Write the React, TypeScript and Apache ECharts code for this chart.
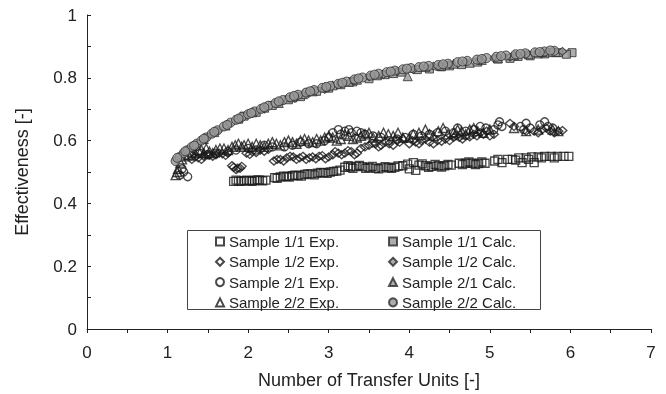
import React, { useEffect, useRef } from "react";
import * as echarts from "echarts";

// [NTU, effectiveness]
const s11Exp: number[][] = [
  [1.82, 0.470], [1.88, 0.471], [1.95, 0.472], [2.02, 0.472], [2.08, 0.473], [2.14, 0.474], [2.22, 0.474],
  [2.33, 0.482], [2.40, 0.484], [2.48, 0.486], [2.55, 0.488], [2.62, 0.489], [2.70, 0.492], [2.78, 0.494],
  [2.86, 0.496], [2.94, 0.498], [3.02, 0.500], [3.10, 0.503], [3.20, 0.515], [3.27, 0.516], [3.34, 0.518],
  [3.42, 0.517], [3.50, 0.514], [3.58, 0.512], [3.66, 0.513], [3.74, 0.514], [3.82, 0.515], [3.92, 0.520],
  [3.98, 0.525], [4.05, 0.530], [4.12, 0.522], [4.20, 0.520], [4.28, 0.518], [4.36, 0.520], [4.44, 0.520],
  [4.52, 0.522], [4.62, 0.528], [4.70, 0.528], [4.78, 0.528], [4.86, 0.527], [4.94, 0.528], [5.06, 0.535],
  [5.15, 0.530], [5.22, 0.540], [5.28, 0.540], [5.36, 0.545], [5.45, 0.545], [5.52, 0.548], [5.60, 0.548],
  [5.68, 0.550], [5.76, 0.550], [5.84, 0.550], [5.92, 0.550], [5.98, 0.550], [5.40, 0.530], [5.55, 0.530],
  [4.00, 0.510], [4.08, 0.505],
  [1.85, 0.474], [1.91, 0.470], [1.98, 0.474], [2.05, 0.470], [2.11, 0.475], [2.18, 0.472], [2.36, 0.480],
  [2.44, 0.487], [2.51, 0.484], [2.58, 0.490], [2.66, 0.487], [2.74, 0.494], [2.82, 0.491], [2.90, 0.499],
  [2.98, 0.496], [3.06, 0.502], [3.14, 0.506], [3.24, 0.520], [3.30, 0.512], [3.38, 0.521], [3.46, 0.512],
  [3.54, 0.518], [3.62, 0.510], [3.70, 0.517], [3.78, 0.512], [3.86, 0.519], [4.16, 0.526], [4.24, 0.515],
  [4.32, 0.524], [4.40, 0.516], [4.48, 0.524], [4.66, 0.524], [4.74, 0.532], [4.82, 0.524], [4.90, 0.532],
  [5.10, 0.540], [5.32, 0.538], [5.48, 0.540], [5.64, 0.545], [5.80, 0.545]
];
const s11Calc: number[][] = [
  [1.95, 0.678], [2.30, 0.712], [2.65, 0.740], [3.00, 0.767], [3.30, 0.787], [3.70, 0.810], [4.10, 0.826],
  [4.40, 0.835], [4.65, 0.842], [5.10, 0.860], [5.35, 0.868], [5.60, 0.876], [5.75, 0.880], [5.85, 0.880],
  [6.02, 0.880],
  [2.10, 0.690], [2.50, 0.730], [2.85, 0.757], [3.15, 0.778], [3.50, 0.797], [3.90, 0.818], [4.25, 0.828],
  [4.50, 0.838], [4.85, 0.850], [5.25, 0.862], [5.50, 0.870], [5.68, 0.876], [5.95, 0.875]
];
const s12Exp: number[][] = [
  [1.30, 0.540], [1.38, 0.545], [1.45, 0.550], [1.52, 0.553], [1.60, 0.555], [1.68, 0.558], [1.75, 0.560],
  [1.82, 0.515], [1.87, 0.512], [1.92, 0.518], [1.98, 0.560], [2.05, 0.565], [2.15, 0.570], [2.25, 0.572],
  [2.32, 0.535], [2.40, 0.540], [2.48, 0.545], [2.56, 0.548], [2.64, 0.545], [2.72, 0.540], [2.80, 0.548],
  [2.88, 0.550], [2.96, 0.542], [3.05, 0.555], [3.12, 0.560], [3.20, 0.560], [3.28, 0.565], [3.35, 0.560],
  [3.40, 0.575], [3.50, 0.585], [3.58, 0.590], [3.65, 0.585], [3.75, 0.590], [3.85, 0.600], [3.92, 0.605],
  [4.00, 0.590], [4.08, 0.595], [4.15, 0.600], [4.25, 0.595], [4.35, 0.600], [4.45, 0.605], [4.55, 0.610],
  [4.62, 0.610], [4.70, 0.615], [4.80, 0.620], [4.88, 0.625], [4.96, 0.630], [5.05, 0.620], [5.25, 0.655],
  [5.30, 0.645], [5.45, 0.630], [5.55, 0.630], [5.65, 0.635], [5.75, 0.630], [5.85, 0.630], [5.90, 0.632],
  [1.34, 0.548], [1.42, 0.540], [1.49, 0.556], [1.56, 0.550], [1.64, 0.560], [1.72, 0.553], [1.80, 0.520],
  [1.85, 0.508], [1.90, 0.512], [2.02, 0.556], [2.10, 0.562], [2.20, 0.566], [2.36, 0.540], [2.44, 0.535],
  [2.52, 0.550], [2.60, 0.540], [2.68, 0.550], [2.76, 0.545], [2.84, 0.542], [2.92, 0.552], [3.00, 0.548],
  [3.08, 0.565], [3.16, 0.555], [3.24, 0.568], [3.32, 0.555], [3.45, 0.580], [3.54, 0.592], [3.62, 0.580],
  [3.70, 0.595], [3.80, 0.585], [3.88, 0.595], [4.04, 0.600], [4.12, 0.590], [4.20, 0.605], [4.30, 0.590],
  [4.40, 0.598], [4.50, 0.600], [4.58, 0.615], [4.66, 0.605], [4.75, 0.612], [4.84, 0.615], [4.92, 0.620],
  [5.00, 0.615], [5.60, 0.625], [5.70, 0.640], [5.80, 0.625]
];
const s12Calc: number[][] = [
  [1.25, 0.565], [1.50, 0.612], [1.75, 0.650], [2.05, 0.686], [2.40, 0.722], [2.75, 0.750], [3.15, 0.780],
  [3.50, 0.803], [3.85, 0.820], [4.30, 0.837], [4.70, 0.850], [5.05, 0.862], [5.45, 0.874], [5.90, 0.884],
  [1.38, 0.590], [1.62, 0.630], [1.90, 0.668], [2.20, 0.700], [2.58, 0.735], [2.95, 0.763], [3.30, 0.790],
  [3.68, 0.810], [4.05, 0.826], [4.50, 0.842], [4.88, 0.855], [5.25, 0.866], [5.65, 0.878]
];
const s21Exp: number[][] = [
  [1.15, 0.490], [1.20, 0.500], [1.25, 0.485], [1.50, 0.555], [1.75, 0.565], [2.00, 0.575], [2.30, 0.580],
  [2.55, 0.585], [2.75, 0.590], [2.95, 0.600], [3.05, 0.625], [3.12, 0.635], [3.20, 0.630], [3.28, 0.625],
  [3.35, 0.630], [3.45, 0.620], [3.55, 0.615], [3.75, 0.600], [3.95, 0.610], [4.15, 0.615], [4.35, 0.625],
  [4.55, 0.625], [4.70, 0.630], [4.80, 0.635], [4.88, 0.645], [5.05, 0.635], [5.12, 0.660], [5.15, 0.645],
  [5.38, 0.645], [5.45, 0.655], [5.50, 0.640], [5.68, 0.660], [5.72, 0.645], [5.78, 0.640],
  [1.18, 0.510], [1.30, 0.550], [1.40, 0.560], [1.60, 0.560], [1.85, 0.570], [2.10, 0.570], [2.20, 0.585],
  [2.45, 0.580], [2.65, 0.595], [2.85, 0.590], [3.00, 0.610], [3.15, 0.620], [3.25, 0.635], [3.40, 0.625],
  [3.65, 0.610], [3.85, 0.605], [4.05, 0.620], [4.25, 0.620], [4.45, 0.630], [4.60, 0.640], [4.95, 0.640],
  [5.10, 0.650], [5.42, 0.635], [5.62, 0.650]
];
const s21Calc: number[][] = [
  [1.18, 0.553], [1.33, 0.583], [1.58, 0.627], [1.88, 0.670], [2.20, 0.705], [2.55, 0.738], [2.80, 0.757],
  [3.05, 0.776], [3.35, 0.794], [3.60, 0.808], [3.98, 0.805], [4.20, 0.835], [4.55, 0.845], [4.90, 0.857],
  [5.30, 0.872], [5.65, 0.882],
  [1.45, 0.605], [1.72, 0.648], [2.05, 0.690], [2.38, 0.720], [2.68, 0.748], [2.95, 0.770], [3.25, 0.787],
  [3.80, 0.815], [4.38, 0.838], [4.75, 0.848], [5.10, 0.862], [5.48, 0.875], [5.82, 0.882]
];
const s22Exp: number[][] = [
  [1.10, 0.490], [1.13, 0.510], [1.16, 0.530], [1.22, 0.550], [1.30, 0.565], [1.38, 0.570], [1.45, 0.560],
  [1.52, 0.565], [1.60, 0.570], [1.70, 0.575], [1.80, 0.580], [1.88, 0.590], [1.95, 0.585], [2.05, 0.580],
  [2.15, 0.585], [2.25, 0.590], [2.35, 0.590], [2.45, 0.595], [2.55, 0.595], [2.65, 0.600], [2.75, 0.600],
  [2.85, 0.605], [2.95, 0.610], [3.05, 0.610], [3.15, 0.605], [3.25, 0.615], [3.35, 0.610], [3.45, 0.620],
  [3.55, 0.610], [3.68, 0.625], [3.80, 0.615], [3.92, 0.610], [4.05, 0.620], [4.20, 0.635], [4.30, 0.615],
  [4.42, 0.640], [4.55, 0.625], [4.65, 0.630], [4.75, 0.635], [4.85, 0.630], [5.00, 0.635], [5.30, 0.640],
  [5.45, 0.630], [5.60, 0.635], [5.78, 0.635], [5.85, 0.630],
  [1.12, 0.500], [1.18, 0.540], [1.26, 0.555], [1.34, 0.560], [1.42, 0.570], [1.48, 0.575], [1.56, 0.560],
  [1.65, 0.575], [1.75, 0.570], [1.84, 0.585], [1.92, 0.580], [2.00, 0.590], [2.10, 0.590], [2.20, 0.580],
  [2.30, 0.595], [2.40, 0.585], [2.50, 0.600], [2.60, 0.590], [2.70, 0.605], [2.80, 0.595], [2.90, 0.600],
  [3.00, 0.615], [3.10, 0.600], [3.20, 0.620], [3.30, 0.605], [3.40, 0.615], [3.50, 0.625], [3.62, 0.615],
  [3.74, 0.620], [3.86, 0.625], [4.00, 0.610], [4.12, 0.625], [4.25, 0.620], [4.36, 0.630], [4.48, 0.620],
  [4.60, 0.635], [4.70, 0.620], [4.80, 0.640], [4.92, 0.625]
];
const s22Calc: number[][] = [
  [1.10, 0.535], [1.15, 0.548], [1.20, 0.560], [1.25, 0.570], [1.30, 0.580], [1.36, 0.590], [1.42, 0.600],
  [1.48, 0.610], [1.55, 0.622], [1.62, 0.633], [1.70, 0.645], [1.78, 0.657], [1.85, 0.666], [1.92, 0.675],
  [2.00, 0.684], [2.08, 0.693], [2.16, 0.701], [2.25, 0.711], [2.34, 0.720], [2.43, 0.729], [2.52, 0.738],
  [2.62, 0.746], [2.72, 0.753], [2.82, 0.761], [2.92, 0.768], [3.02, 0.774], [3.12, 0.781], [3.22, 0.788],
  [3.32, 0.795], [3.42, 0.801], [3.52, 0.807], [3.62, 0.813], [3.72, 0.818], [3.82, 0.823], [3.92, 0.827],
  [4.02, 0.831], [4.12, 0.834], [4.24, 0.838], [4.36, 0.841], [4.48, 0.845], [4.60, 0.850], [4.72, 0.854],
  [4.84, 0.858], [4.96, 0.863], [5.08, 0.867], [5.20, 0.871], [5.32, 0.875], [5.44, 0.878], [5.56, 0.881],
  [5.68, 0.884], [5.80, 0.886],
  [1.12, 0.545], [1.22, 0.566], [1.33, 0.584], [1.45, 0.606], [1.58, 0.628], [1.74, 0.650], [1.88, 0.670],
  [2.04, 0.688], [2.20, 0.706], [2.38, 0.725], [2.57, 0.742], [2.77, 0.757], [2.97, 0.771], [3.17, 0.784],
  [3.37, 0.798], [3.57, 0.810], [3.77, 0.820], [3.97, 0.829], [4.18, 0.836], [4.42, 0.843], [4.66, 0.852],
  [4.90, 0.860], [5.14, 0.869], [5.38, 0.876], [5.62, 0.882], [5.75, 0.887]
];

const names = {
  e11: "Sample 1/1 Exp.", c11: "Sample 1/1 Calc.",
  e12: "Sample 1/2 Exp.", c12: "Sample 1/2 Calc.",
  e21: "Sample 2/1 Exp.", c21: "Sample 2/1 Calc.",
  e22: "Sample 2/2 Exp.", c22: "Sample 2/2 Calc.",
};

const FONT = "'Liberation Sans', Arial, Helvetica, sans-serif";
const INK = "#222";

export default function App() {
  const ref = useRef<HTMLDivElement>(null);
  useEffect(() => {
    if (!ref.current) return;
    const chart = echarts.init(ref.current, null, { renderer: "svg" });
    const exp = { color: "rgba(255,255,255,0)", borderColor: "#1a1a1a", borderWidth: 1.35 };
    const calc = { color: "#989898", borderColor: "#2a2a2a", borderWidth: 1 };
    const mk = (name: string, data: number[][], symbol: string, size: any, style: any) => ({
      type: "scatter", name, data, symbol, symbolSize: size, itemStyle: style,
      emphasis: { disabled: true },
    });
    const legendBase = {
      orient: "vertical", padding: 0, itemGap: 5.3, itemWidth: 8, itemHeight: 8,
      textStyle: { fontSize: 15, color: INK, fontFamily: FONT, lineHeight: 14 },
      selectedMode: false,
    };
    chart.setOption({
      animation: false,
      textStyle: { fontFamily: FONT },
      grid: { left: 87, right: 15, top: 15, bottom: 64, containLabel: false },
      xAxis: {
        type: "value", min: 0, max: 7, interval: 1,
        name: "Number of Transfer Units [-]", nameLocation: "middle", nameGap: 42,
        nameTextStyle: { fontSize: 18, color: INK, fontFamily: FONT },
        axisLine: { lineStyle: { color: INK, width: 1 } },
        axisTick: { inside: false, length: 4, lineStyle: { color: INK } },
        minorTick: { show: true, splitNumber: 2, length: 4, lineStyle: { color: INK } },
        axisLabel: { fontSize: 17, color: INK, margin: 15, fontFamily: FONT },
        splitLine: { show: false },
      },
      yAxis: {
        type: "value", min: 0, max: 1, interval: 0.2,
        name: "Effectiveness [-]", nameLocation: "middle", nameGap: 56,
        nameTextStyle: { fontSize: 18, color: INK, fontFamily: FONT },
        axisLine: { show: true, lineStyle: { color: INK, width: 1 } },
        axisTick: { show: true, inside: true, length: 4, lineStyle: { color: INK } },
        minorTick: { show: true, splitNumber: 2, length: 4, lineStyle: { color: INK } },
        axisLabel: { fontSize: 17, color: INK, margin: 10, fontFamily: FONT },
        splitLine: { show: false },
      },
      legend: [
        { ...legendBase, left: 215, top: 234, data: [names.e11, names.e12, names.e21, names.e22] },
        { ...legendBase, left: 388, top: 234, data: [names.c11, names.c12, names.c21, names.c22] },
      ],
      graphic: [
        { type: "rect", shape: { x: 187.5, y: 230.5, width: 353, height: 79 }, style: { fill: "none", stroke: "#444", lineWidth: 1 }, z: 0 },
      ],
      series: [
        mk(names.e11, s11Exp, "rect", 8, exp),
        mk(names.c11, s11Calc, "rect", 8, calc),
        mk(names.e12, s12Exp, "diamond", [9, 8], exp),
        mk(names.c12, s12Calc, "diamond", [9, 8], calc),
        mk(names.e21, s21Exp, "circle", 8, exp),
        mk(names.c21, s21Calc, "triangle", 9, calc),
        mk(names.e22, s22Exp, "triangle", 9, exp),
        mk(names.c22, s22Calc, "circle", 9, calc),
      ],
    });
    return () => chart.dispose();
  }, []);
  return <div ref={ref} style={{ position: "fixed", left: 0, top: 0, width: 666, height: 394 }} />;
}
